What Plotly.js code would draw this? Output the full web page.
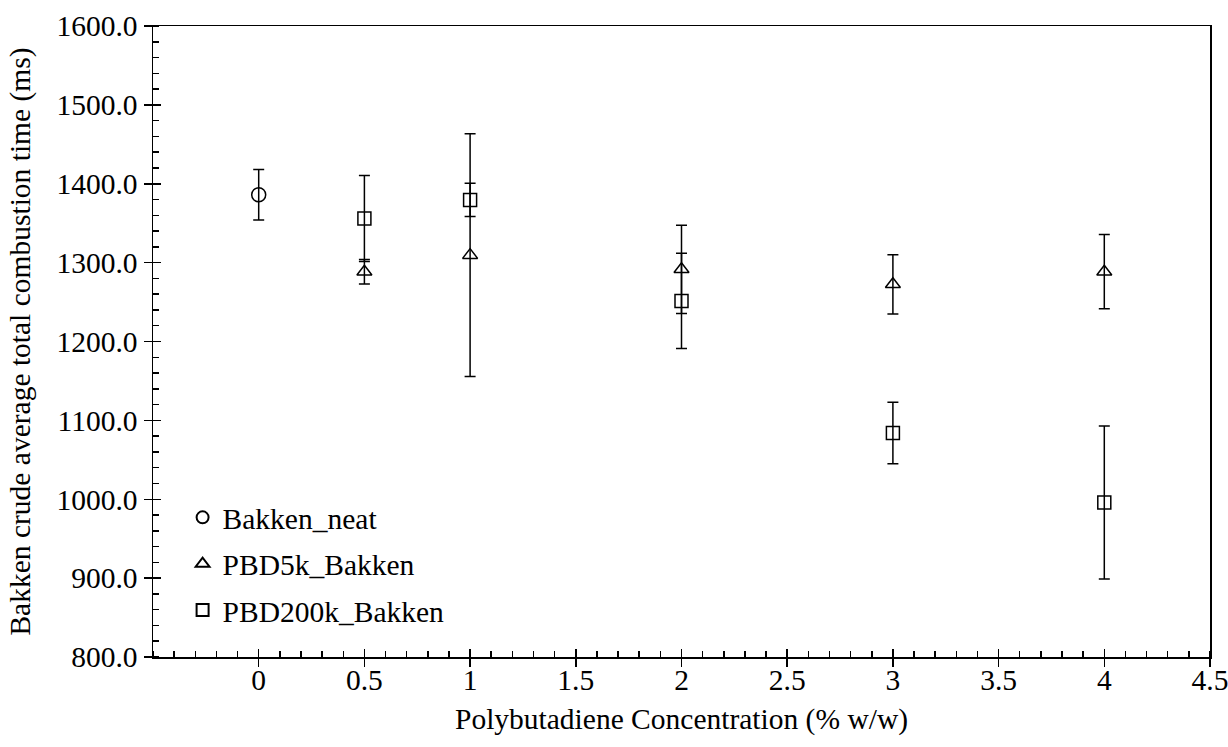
<!DOCTYPE html>
<html>
<head>
<meta charset="utf-8">
<script src="https://cdn.plot.ly/plotly-3.0.1.min.js"></script>
<style>html,body{margin:0;padding:0;background:#fff;}#chart{width:1228px;height:747px;}</style>
</head>
<body>
<div id="chart"></div>
<script>
// Data
const neatX = [0];
const neatY = [1386];
const neatErr = [32];

const pbd5kX = [0.5, 1, 2, 3, 4];
const pbd5kY = [1288.5, 1309.5, 1291.5, 1272.5, 1288.5];
const pbd5kErr = [15.5, 154, 56, 37.5, 47];

const pbd200kX = [0.5, 1, 2, 3, 4];
const pbd200kY = [1356, 1379.5, 1251.5, 1084, 996];
const pbd200kErr = [54.5, 21, 60.5, 39, 97];

const xTickVals = [0, 0.5, 1, 1.5, 2, 2.5, 3, 3.5, 4, 4.5];
const xTickText = ['0', '0.5', '1', '1.5', '2', '2.5', '3', '3.5', '4', '4.5'];

const FONT = '"Times New Roman", "Liberation Serif", serif';
const FS = 29.5;

function errBar(arr) {
  return {type: 'data', array: arr, visible: true, color: '#000', thickness: 1.5, width: 5.5};
}

const traces = [
  {x: neatX, y: neatY, name: 'Bakken_neat', type: 'scatter', mode: 'markers', legendgroup: 'a',
   marker: {symbol: 'circle-open', size: 14, color: '#000', line: {width: 1.5, color: '#000'}},
   error_y: errBar(neatErr)},
  {x: pbd5kX, y: pbd5kY, name: 'PBD5k_Bakken', type: 'scatter', mode: 'markers', legendgroup: 'b',
   marker: {symbol: 'triangle-up-open', size: 13, color: '#000', line: {width: 1.5, color: '#000'}},
   error_y: errBar(pbd5kErr)},
  {x: pbd200kX, y: pbd200kY, name: 'PBD200k_Bakken', type: 'scatter', mode: 'markers', legendgroup: 'c',
   marker: {symbol: 'square-open', size: 13, color: '#000', line: {width: 1.5, color: '#000'}},
   error_y: errBar(pbd200kErr)},
  {x: [], y: [], xaxis: 'x2', yaxis: 'y2', type: 'scatter', mode: 'markers', showlegend: false, hoverinfo: 'skip'}
];

const layout = {
  width: 1228, height: 747,
  margin: {l: 153, r: 18, t: 26, b: 90},
  paper_bgcolor: '#fff', plot_bgcolor: '#fff',
  font: {family: FONT, size: FS, color: '#000'},
  showlegend: true,
  legend: {x: 0.028, y: 0.262, xanchor: 'left', yanchor: 'top', bgcolor: 'rgba(0,0,0,0)',
           font: {family: FONT, size: FS, color: '#000'}, itemsizing: 'constant', tracegroupgap: 5},
  xaxis: {
    range: [-0.5, 4.5], tickmode: 'array', tickvals: xTickVals, ticktext: xTickText,
    showgrid: false, zeroline: false, showline: true, linecolor: '#000', linewidth: 1.5, mirror: true,
    ticks: 'outside', ticklen: 8, tickwidth: 1.5, tickcolor: '#000', ticklabelstandoff: -12,
    ticklabeloverflow: 'allow',
    minor: {tick0: 0, dtick: 0.1, ticks: 'inside', ticklen: 6, tickwidth: 1.5, tickcolor: '#000', showgrid: false},
    tickfont: {family: FONT, size: FS, color: '#000'},
    title: {text: 'Polybutadiene Concentration (% w/w)', font: {family: FONT, size: FS, color: '#000'}, standoff: 13}
  },
  yaxis: {
    range: [800, 1600], dtick: 100, tick0: 800, tickformat: '.1f',
    showgrid: false, zeroline: false, showline: true, linecolor: '#000', linewidth: 1.5, mirror: true,
    ticks: 'outside', ticklen: 8, tickwidth: 1.5, tickcolor: '#000',
    minor: {tick0: 800, dtick: 20, ticks: 'inside', ticklen: 6, tickwidth: 1.5, tickcolor: '#000', showgrid: false},
    tickfont: {family: FONT, size: FS, color: '#000'},
    title: {text: 'Bakken crude average total combustion time (ms)', font: {family: FONT, size: FS, color: '#000'}, standoff: 17}
  },
  xaxis2: {
    overlaying: 'x', matches: 'x', anchor: 'y2', range: [-0.5, 4.5], tickmode: 'array', tickvals: xTickVals,
    showticklabels: false, showgrid: false, zeroline: false, showline: false,
    ticks: 'inside', ticklen: 8, tickwidth: 1.5, tickcolor: '#000'
  },
  yaxis2: {
    overlaying: 'y', matches: 'y', anchor: 'x2', range: [800, 1600], dtick: 100, tick0: 800,
    showticklabels: false, showgrid: false, zeroline: false, showline: false,
    ticks: 'inside', ticklen: 8, tickwidth: 1.5, tickcolor: '#000'
  }
};

Plotly.newPlot('chart', traces, layout, {displayModeBar: false, staticPlot: true});
</script>
</body>
</html>
